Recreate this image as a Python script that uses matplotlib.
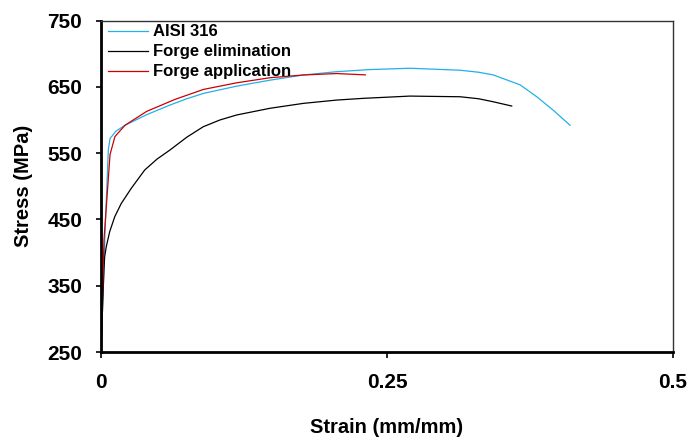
from matplotlib import pyplot as plt

plt.rcParams['font.family'] = ['Liberation Sans', 'DejaVu Sans']
plt.rcParams['font.weight'] = 'bold'

# AISI 316 base metal
aisi_strain = [0.0, 0.0011, 0.0035, 0.0064, 0.0079, 0.013, 0.021, 0.040, 0.0603,
               0.075, 0.0894, 0.1186, 0.1477, 0.1768, 0.206, 0.2351, 0.270,
               0.3138, 0.330, 0.3427, 0.3663, 0.3809, 0.3951, 0.41]
aisi_stress = [250, 303, 430, 555, 572, 583, 592, 608, 622.5,
               632, 640, 651, 660, 667.8, 672.8, 676, 678,
               675, 672, 668, 653, 635, 615, 592]

# Forge elimination
elim_strain = [0.0, 0.0015, 0.0026, 0.0032, 0.0046, 0.0076, 0.012, 0.0177, 0.0265,
               0.0382, 0.049, 0.0603, 0.075, 0.0894, 0.104, 0.1186, 0.1477,
               0.1768, 0.206, 0.2293, 0.270, 0.3138, 0.330, 0.3427, 0.359]
elim_stress = [250, 323.5, 373.7, 393.7, 408.8, 431.5, 454, 474, 497,
               524.5, 541, 554.7, 574, 589.8, 600, 607.5, 617.6,
               625, 630, 632.6, 636, 635, 632, 627.5, 621]

# Forge application
appl_strain = [0.0, 0.0026, 0.0079, 0.0122, 0.021, 0.040, 0.0647, 0.0894, 0.1186,
               0.1477, 0.1768, 0.206, 0.231]
appl_stress = [250, 419, 548, 575, 592, 613, 631, 646, 656,
               663.7, 667.8, 670, 668]

fig = plt.figure(figsize=(6.98, 4.4), dpi=100)
ax = fig.add_axes([0.1447, 0.2, 0.8195, 0.7534])

ax.plot(aisi_strain, aisi_stress, color='#22b0ea', lw=0.9, label='AISI 316')
ax.plot(elim_strain, elim_stress, color='black', lw=0.9, label='Forge elimination')
ax.plot(appl_strain, appl_stress, color='#cc0000', lw=0.9, label='Forge application')

ax.set_xlim(0, 0.5)
ax.set_ylim(250, 750)
ax.set_xticks([0, 0.25, 0.5])
ax.set_xticklabels(['0', '0.25', '0.5'])
ax.set_yticks([250, 350, 450, 550, 650, 750])

ax.tick_params(axis='x', direction='out', length=4.3, width=1.2, pad=11, labelsize=15)
ax.tick_params(axis='y', direction='out', length=3.6, width=1.2, pad=10, labelsize=15)

for side in ['left', 'bottom']:
    ax.spines[side].set_linewidth(2.0)
for side in ['top', 'right']:
    ax.spines[side].set_linewidth(1.0)
    ax.spines[side].set_color('#333333')

ax.set_xlabel('Strain (mm/mm)', fontsize=14.5, fontweight='bold')
ax.set_ylabel('Stress (MPa)', fontsize=14.5, fontweight='bold')
ax.xaxis.label.set_va('center')
ax.yaxis.label.set_va('center')
ax.xaxis.set_label_coords(0.5, -0.228)
ax.yaxis.set_label_coords(-0.135, 0.5)

ax.legend(loc='upper left', bbox_to_anchor=(7 / 572, 0.988), frameon=False,
          borderpad=0, borderaxespad=0, labelspacing=0.3, handlelength=2.4,
          handletextpad=0.3, prop={'size': 12, 'weight': 'bold'})

plt.savefig('out.png', dpi=100)
